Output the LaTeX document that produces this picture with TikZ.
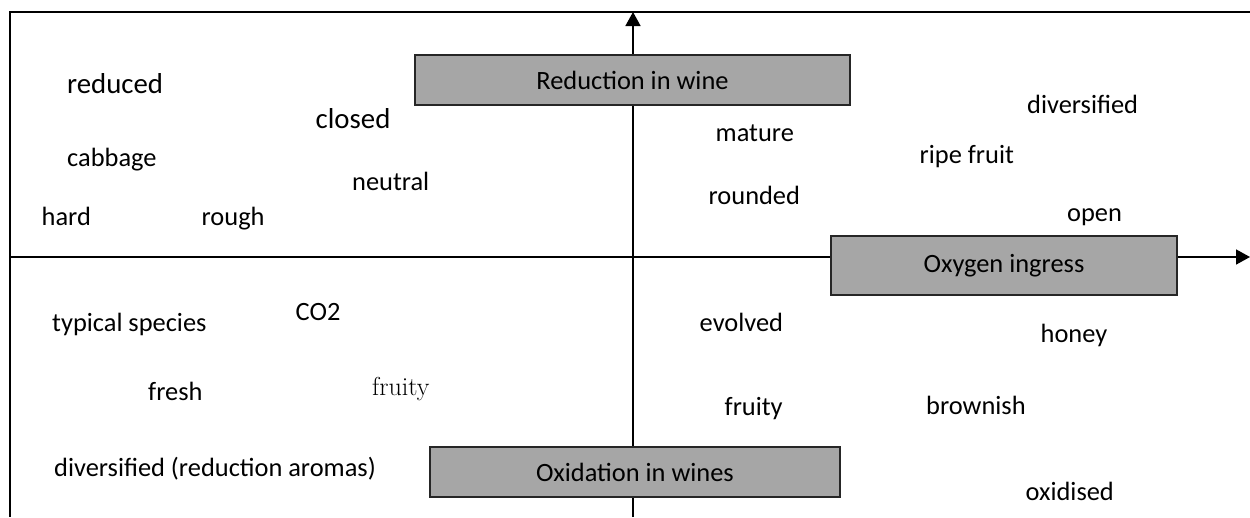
\documentclass[tikz,border=0pt]{standalone}
\usepackage{fontspec}
\newfontfamily\calibri{Carlito}
\usetikzlibrary{arrows.meta}
\definecolor{boxgrey}{HTML}{A6A6A6}
\begin{document}
\begin{tikzpicture}[x=1pt,y=-1pt,
  lbl/.style={font=\calibri\fontsize{26.4}{30}\selectfont, anchor=base west, inner sep=0pt},
  biglbl/.style={font=\calibri\fontsize{28.8}{33}\selectfont, anchor=base west, inner sep=0pt},
  seriflbl/.style={font=\rmfamily\fontsize{26}{30}\selectfont, anchor=base west, inner sep=0pt},
  greybox/.style={draw=black!85, line width=2pt, fill=boxgrey, font=\calibri\fontsize{26.4}{30}\selectfont, inner sep=0pt, outer sep=0pt},
  axisline/.style={line width=1.6pt, -{Triangle[length=14pt,width=15pt]}},
  frameline/.style={line width=2pt},
]
\useasboundingbox (0,0) rectangle (1250,517);
% frame
\coordinate (fr) at (1250,12);
\coordinate (fl) at (9.5,12);
\coordinate (fb) at (9.5,517);
\draw[frameline] (fr) -- (fl) -- (fb);
% axes
\coordinate (vbot) at (633,517);
\coordinate (vtop) at (633,12);
\coordinate (hleft) at (9.5,257);
\coordinate (hright) at (1250,257);
\draw[axisline] (vbot) -- (vtop);
\draw[axisline] (hleft) -- (hright);
% boxes
\node[greybox, minimum width=435pt, minimum height=50pt] (red) at (632.5,80) {Reduction in wine};
\node[greybox, minimum width=346pt, minimum height=59pt] (oxy) at (1004,265.5) {Oxygen ingress};
\node[greybox, minimum width=410pt, minimum height=50pt] (oxd) at (635,472) {Oxidation in wines};
% upper left
\node[biglbl] (t1) at (67,93.3) {reduced};
\node[biglbl] (t2) at (315.5,128.3) {closed};
\node[lbl] (t3) at (67,166.5) {cabbage};
\node[lbl] (t4) at (352,190) {neutral};
\node[lbl] (t5) at (41.5,225.7) {hard};
\node[lbl] (t6) at (201.5,225.7) {rough};
% lower left
\node[lbl] (t7) at (52,331.7) {typical species};
\node[lbl] (t8) at (295.5,320) {CO2};
\node[lbl] (t9) at (148,400) {fresh};
\node[seriflbl] (t10) at (372,395) {fruity};
\node[lbl] (t11) at (54,476.7) {diversified (reduction aromas)};
% upper right
\node[lbl] (t12) at (1027,113.3) {diversified};
\node[lbl] (t13) at (715.5,141.7) {mature};
\node[lbl] (t14) at (919.5,163.3) {ripe fruit};
\node[lbl] (t15) at (708.5,204) {rounded};
\node[lbl] (t16) at (1067,221.7) {open};
% lower right
\node[lbl] (t17) at (699.5,331) {evolved};
\node[lbl] (t18) at (1040.5,342.7) {honey};
\node[lbl] (t19) at (724.5,415) {fruity};
\node[lbl] (t20) at (926,414) {brownish};
\node[lbl] (t21) at (1025.5,500) {oxidised};
\end{tikzpicture}
\end{document}
